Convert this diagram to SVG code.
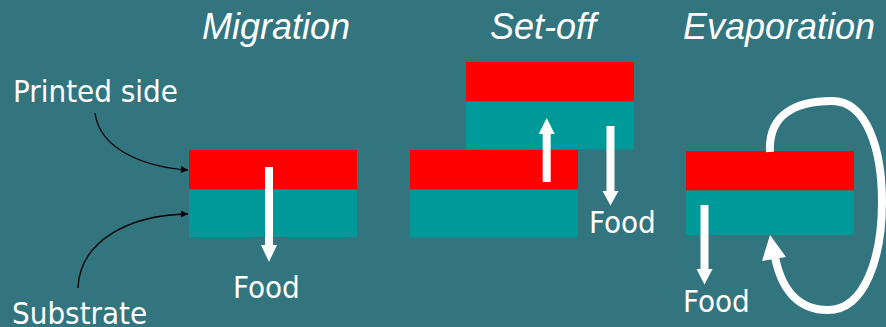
<svg xmlns="http://www.w3.org/2000/svg" width="886" height="327" viewBox="0 0 886 327">
<defs>
<style>
.bg{fill:#33757f}
.ink{fill:#ff0000}
.sub{fill:#009999}
.wa{fill:#ffffff}
.title{font-family:"Liberation Sans",Arial,sans-serif;font-style:italic;font-size:36px;fill:#ffffff}
.lbl{font-family:"DejaVu Sans Condensed","DejaVu Sans",sans-serif;font-stretch:condensed;font-size:31px;fill:#ffffff}
.lead{fill:none;stroke:#000000;stroke-width:1.3}
.loop{fill:none;stroke:#ffffff;stroke-width:8}
</style>
<marker id="ah" viewBox="0 0 10 10" refX="10" refY="5" markerWidth="9" markerHeight="7" markerUnits="userSpaceOnUse" orient="auto">
<path d="M0,0 L10,5 L0,10 z" fill="#000000"/>
</marker>
</defs>
<rect class="bg" x="0" y="0" width="886" height="327"/>

<g id="titles">
<text class="title" x="202" y="39">Migration</text>
<text class="title" x="490" y="39">Set-off</text>
<text class="title" x="683" y="39">Evaporation</text>
</g>

<g id="label-printed-side"><text class="lbl" x="13" y="102">Printed side</text></g>
<g id="label-substrate"><text class="lbl" x="12" y="324">Substrate</text></g>

<g id="migration">
<rect class="ink" x="189" y="150" width="168" height="39.5"/>
<rect class="sub" x="189" y="189.5" width="168" height="47.5"/>
<path class="wa" d="M265,167 H273 V245 H277 L269,262 L261,245 H265 Z"/>
<text class="lbl" x="233" y="298">Food</text>
</g>

<g id="setoff">
<rect class="ink" x="466" y="62" width="168" height="39.5"/>
<rect class="sub" x="466" y="101.5" width="168" height="48"/>
<rect class="ink" x="410" y="150" width="168" height="39.5"/>
<rect class="sub" x="410" y="189.5" width="168" height="48"/>
<path class="wa" d="M542.7,182 V134 H538.7 L546.7,118 L554.7,134 H550.7 V182 Z"/>
<path class="wa" d="M606.5,126 H614.5 V191 H618.5 L610.5,205.5 L602.5,191 H606.5 Z"/>
<text class="lbl" x="589" y="233">Food</text>
</g>

<g id="evaporation">
<rect class="ink" x="686" y="151" width="168" height="39.5"/>
<rect class="sub" x="686" y="190.5" width="168" height="44.5"/>
<path class="wa" d="M700.5,205 H708.5 V269 H712.5 L704.5,284.5 L696.5,269 H700.5 Z"/>
<text class="lbl" x="683" y="312">Food</text>
<path class="loop" d="M770,152 C768,115 795,101 832,101 C867,101 882,150 882,202 C882,257 865,310 828,310 C800,310 782,292 775,257"/>
<polygon class="wa" points="770,235 762,261 786,257"/>
</g>

<g id="connectors">
<path class="lead" d="M95,113 C100,150 145,167 188,170" marker-end="url(#ah)"/>
<path class="lead" d="M78,288 C80,240 130,215 188,214" marker-end="url(#ah)"/>
</g>
</svg>
